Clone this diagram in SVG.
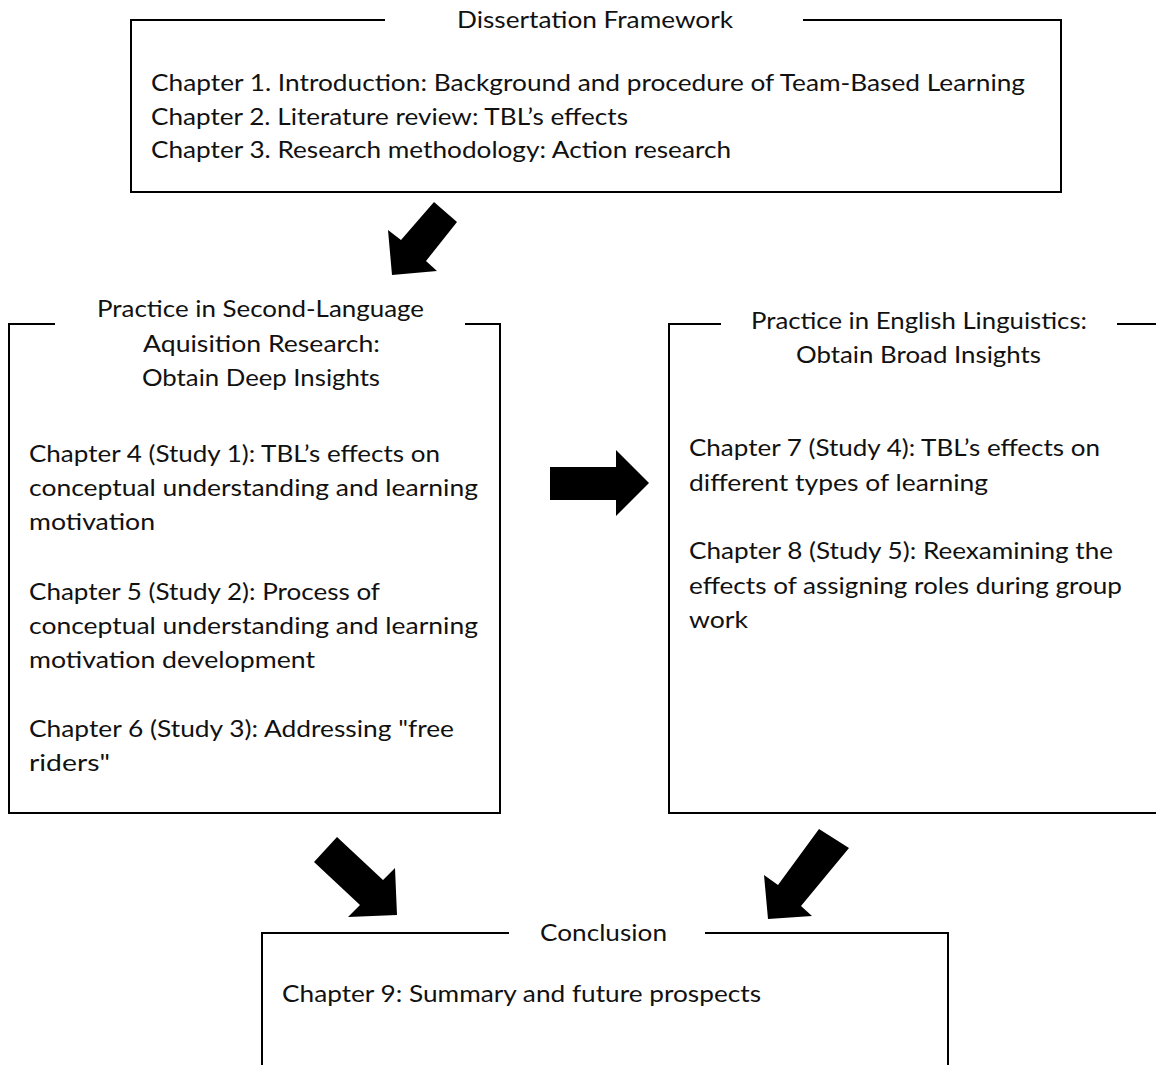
<svg xmlns="http://www.w3.org/2000/svg" width="1156" height="1065" viewBox="0 0 1156 1065">
<style>
.frame{fill:none;stroke:#000;stroke-width:2;stroke-linecap:square}
.t{font-family:Lato,"Open Sans","Liberation Sans",sans-serif;font-size:23.5px;fill:#111}
.arrow{fill:#000;stroke:none}
</style>
<rect x="0" y="0" width="1156" height="1065" fill="#fff"/>
<g id="node-framework">
<path class="frame" d="M384,20 H131 V192 H1061 V20 H804"/>
<text class="t" x="457" y="28" textLength="276" lengthAdjust="spacingAndGlyphs">Dissertation Framework</text>
<text class="t" x="151" y="91" textLength="874" lengthAdjust="spacingAndGlyphs">Chapter 1. Introduction: Background and procedure of Team-Based Learning</text>
<text class="t" x="151" y="125" textLength="477" lengthAdjust="spacingAndGlyphs">Chapter 2. Literature review: TBL’s effects</text>
<text class="t" x="151" y="158" textLength="580" lengthAdjust="spacingAndGlyphs">Chapter 3. Research methodology: Action research</text>
</g>
<g id="node-sla">
<path class="frame" d="M54,324 H9 V813 H500 V324 H466"/>
<text class="t" x="97" y="317" textLength="327" lengthAdjust="spacingAndGlyphs">Practice in Second-Language</text>
<text class="t" x="143" y="352" textLength="237" lengthAdjust="spacingAndGlyphs">Aquisition Research:</text>
<text class="t" x="142" y="386" textLength="238" lengthAdjust="spacingAndGlyphs">Obtain Deep Insights</text>
<text class="t" x="29" y="462" textLength="411" lengthAdjust="spacingAndGlyphs">Chapter 4 (Study 1): TBL’s effects on</text>
<text class="t" x="29" y="496" textLength="449" lengthAdjust="spacingAndGlyphs">conceptual understanding and learning</text>
<text class="t" x="29" y="530" textLength="126" lengthAdjust="spacingAndGlyphs">motivation</text>
<text class="t" x="29" y="600" textLength="351" lengthAdjust="spacingAndGlyphs">Chapter 5 (Study 2): Process of</text>
<text class="t" x="29" y="634" textLength="449" lengthAdjust="spacingAndGlyphs">conceptual understanding and learning</text>
<text class="t" x="29" y="668" textLength="286" lengthAdjust="spacingAndGlyphs">motivation development</text>
<text class="t" x="29" y="737" textLength="425" lengthAdjust="spacingAndGlyphs">Chapter 6 (Study 3): Addressing "free</text>
<text class="t" x="29" y="771" textLength="81" lengthAdjust="spacingAndGlyphs">riders"</text>
</g>
<g id="node-el">
<path class="frame" d="M720,324 H669 V813 H1160"/>
<path class="frame" d="M1118,324 H1160"/>
<text class="t" x="751" y="329" textLength="336" lengthAdjust="spacingAndGlyphs">Practice in English Linguistics:</text>
<text class="t" x="796" y="363" textLength="245" lengthAdjust="spacingAndGlyphs">Obtain Broad Insights</text>
<text class="t" x="689" y="456" textLength="411" lengthAdjust="spacingAndGlyphs">Chapter 7 (Study 4): TBL’s effects on</text>
<text class="t" x="689" y="491" textLength="299" lengthAdjust="spacingAndGlyphs">different types of learning</text>
<text class="t" x="689" y="559" textLength="424" lengthAdjust="spacingAndGlyphs">Chapter 8 (Study 5): Reexamining the</text>
<text class="t" x="689" y="594" textLength="433" lengthAdjust="spacingAndGlyphs">effects of assigning roles during group</text>
<text class="t" x="689" y="628" textLength="59" lengthAdjust="spacingAndGlyphs">work</text>
</g>
<g id="node-conclusion">
<path class="frame" d="M508,933 H262 V1070 M948,1070 V933 H706"/>
<text class="t" x="540" y="941" textLength="127" lengthAdjust="spacingAndGlyphs">Conclusion</text>
<text class="t" x="282" y="1002" textLength="479" lengthAdjust="spacingAndGlyphs">Chapter 9: Summary and future prospects</text>
</g>
<g id="connectors">
<polygon class="arrow" points="434,202 457,222 426,261 437,271 392,275 388,230 401,240"/>
<polygon class="arrow" points="550,467 616,467 616,450 649,483 616,516 616,500 550,500"/>
<polygon class="arrow" points="337,837 314,862 360,905 348,917 397,915 395,868 383,880"/>
<polygon class="arrow" points="819,829 849,848 801,906 812,916 768,919 764,875 778,885"/>
</g>
</svg>
